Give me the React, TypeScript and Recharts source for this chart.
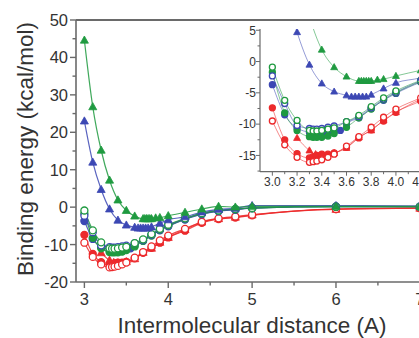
import React from 'react';
import { LineChart, Line, XAxis, YAxis, ReferenceLine, Label } from 'recharts';

// distances (A) shared by the circle series
const circleX = [3.0, 3.1, 3.2, 3.3, 3.33, 3.36, 3.4, 3.45, 3.5, 3.55, 3.6, 3.7, 3.8, 3.9, 4.0, 4.2, 4.4, 4.6, 4.8, 5.0, 6.0, 7.0];
const greenOpen = [-0.9, -6.2, -9.4, -11.0, -11.1, -11.1, -11.0, -10.8, -10.6, null, -9.6, -8.6, -7.2, -5.8, -4.7, -3.0, -1.6, -0.9, -0.5, -0.2, 0.1, 0.1];
const blueOpen = [-2.3, -6.7, -10.2, -10.7, -10.8, -10.8, -10.7, -10.5, -10.3, null, -9.6, -8.8, -7.4, -6.0, -4.9, -3.1, -1.7, -1.0, -0.6, -0.2, 0.2, 0.2];
const greenFilled = [-1.7, -8.2, -11.0, -12.0, -12.1, -12.1, -12.1, -11.9, -11.5, null, -10.5, -9.0, -7.6, -6.1, -5.0, -3.2, -1.8, -1.0, -0.6, -0.3, 0.1, 0.1];
const blueFilled = [-3.7, -8.5, -10.6, -11.3, -11.4, -11.5, -11.5, -11.4, -11.2, -11.0, -9.9, -9.0, -7.5, -6.2, -5.1, -3.3, -1.9, -1.1, -0.7, -0.3, 0.1, 0.1];
const redFilled = [-7.4, -12.5, -14.7, -15.4, -15.2, -15.0, -14.8, -14.8, -14.6, null, -13.7, -12.2, -10.9, -9.5, -8.1, -6.3, -4.2, -3.2, -2.8, -2.2, -0.5, -0.2];
const redOpen = [-9.5, -13.3, -15.3, -16.1, -16.0, -15.9, -15.7, -15.3, -14.8, null, -13.5, -12.0, -10.5, -8.9, -7.6, -5.8, -3.9, -3.0, -2.5, -2.0, -0.5, -0.3];

// triangle series
const redTriX = [3.2, 3.3, 3.35, 3.4, 3.5, 3.6, 3.7, 3.8, 3.9, 4.0, 4.2, 4.4, 4.6, 4.8, 5.0, 6.0, 7.0];
const redTri = [-12.2, -14.2, -14.8, -14.9, -14.6, -13.8, -12.1, -11.0, -9.4, -8.1, -6.0, -4.0, -3.1, -2.7, -2.1, -0.6, -0.3];
const greenTriX = [3.0, 3.1, 3.2, 3.3, 3.4, 3.5, 3.6, 3.7, 3.72, 3.74, 3.76, 3.78, 3.8, 3.85, 3.9, 4.0, 4.2, 4.4, 4.6, 4.8, 5.0, 6.0, 7.0];
const greenTri = [44.6, 26.8, 15.2, 7.2, 1.9, -0.9, -2.4, -3.1, -3.1, -3.1, -3.1, -3.1, -3.1, -2.9, -2.8, -2.3, -1.4, -0.5, 0.2, 0.0, 0.2, 0.2, 0.2];
const blueTriX = [3.0, 3.1, 3.2, 3.3, 3.4, 3.5, 3.6, 3.64, 3.67, 3.7, 3.73, 3.76, 3.8, 3.9, 4.0, 4.2, 4.4, 4.6, 4.8, 5.0, 6.0, 7.0];
const blueTri = [23.0, 12.0, 4.7, -0.5, -3.5, -4.8, -5.4, -5.6, -5.6, -5.6, -5.6, -5.6, -5.3, -4.3, -3.4, -2.6, -1.3, -0.6, -0.3, 0.4, 0.4, 0.3];

// axis ticks
const mainXTicks = [3, 3.5, 4, 4.5, 5, 5.5, 6, 6.5, 7];
const mainYTicks = [-20, -15, -10, -5, 0, 5, 10, 15, 20, 25, 30, 35, 40, 45, 50];
const insetXTicks = [3.0, 3.1, 3.2, 3.3, 3.4, 3.5, 3.6, 3.7, 3.8, 3.9, 4.0, 4.1, 4.2];
const insetYTicks = [-17.5, -15, -12.5, -10, -7.5, -5, -2.5, 0, 2.5, 5];

const GREEN = '#1f9a40';
const BLUE = '#3c48b4';
const RED = '#ec2a2c';
const AXIS = '#6a6a6a';
const TEXT = '#333';
const FONT = "Arial, 'Liberation Sans', sans-serif";

const toPts = (xs: number[], ys: (number | null)[]) => xs.map((x, i) => ({ x, y: ys[i] }));

const series = [
  { name: 'redFilled', data: toPts(circleX, redFilled), color: RED, shape: 'circle', filled: true },
  { name: 'redTri', data: toPts(redTriX, redTri), color: RED, shape: 'tri', filled: true },
  { name: 'redOpen', data: toPts(circleX, redOpen), color: RED, shape: 'circle', filled: false },
  { name: 'blueFilled', data: toPts(circleX, blueFilled), color: BLUE, shape: 'circle', filled: true },
  { name: 'greenFilled', data: toPts(circleX, greenFilled), color: GREEN, shape: 'circle', filled: true },
  { name: 'blueOpen', data: toPts(circleX, blueOpen), color: BLUE, shape: 'circle', filled: false },
  { name: 'greenOpen', data: toPts(circleX, greenOpen), color: GREEN, shape: 'circle', filled: false },
  { name: 'blueTri', data: toPts(blueTriX, blueTri), color: BLUE, shape: 'tri', filled: true },
  { name: 'greenTri', data: toPts(greenTriX, greenTri), color: GREEN, shape: 'tri', filled: true },
];

const makeDot = (shape: string, color: string, filled: boolean, size: number) => (props: any) => {
  const { cx, cy, key } = props;
  if (cx == null || cy == null) return <g key={key} />;
  if (shape === 'tri') {
    const w = size * 1.15;
    const pts = `${cx},${cy - size * 0.6} ${cx - w / 2},${cy + size * 0.42} ${cx + w / 2},${cy + size * 0.42}`;
    return <polygon key={key} points={pts} fill={color} stroke={color} strokeWidth={0.8} />;
  }
  return <circle key={key} cx={cx} cy={cy} r={size / 2} fill={filled ? color : '#fff'} stroke={color} strokeWidth={1.3} />;
};

// main plot geometry (svg coords)
const M_LEFT = 76;
const M_BOTTOM = 282;
// inset geometry (inset svg coords)
const I_LEFT = 40;
const I_BOTTOM = 171.7;

const MainXTick = ({ x, payload }: any) => {
  const major = Number.isInteger(payload.value);
  return (
    <g>
      <line x1={x} x2={x} y1={M_BOTTOM} y2={M_BOTTOM + (major ? 6 : 3.5)} stroke={AXIS} strokeWidth={1.4} />
      {major && (
        <text x={x} y={M_BOTTOM + 23} textAnchor="middle" fontSize={16.5} fontFamily={FONT} fill={TEXT}>
          {payload.value}
        </text>
      )}
    </g>
  );
};

const MainYTick = ({ y, payload }: any) => {
  const major = payload.value % 10 === 0;
  return (
    <g>
      <line x1={M_LEFT} x2={M_LEFT - (major ? 6 : 3.5)} y1={y} y2={y} stroke={AXIS} strokeWidth={1.4} />
      {major && (
        <text x={M_LEFT - 8} y={y} dy="0.36em" textAnchor="end" fontSize={16.5} fontFamily={FONT} fill={TEXT}>
          {payload.value}
        </text>
      )}
    </g>
  );
};

const InsetXTick = ({ x, payload }: any) => {
  const major = Math.round(payload.value * 10) % 2 === 0;
  return (
    <g>
      <line x1={x} x2={x} y1={I_BOTTOM} y2={I_BOTTOM + (major ? 4 : 2.5)} stroke={AXIS} strokeWidth={1} />
      {major && (
        <text x={x} y={I_BOTTOM + 14.5} textAnchor="middle" fontSize={12} fontFamily={FONT} fill={TEXT}>
          {payload.value.toFixed(1)}
        </text>
      )}
    </g>
  );
};

const InsetYTick = ({ y, payload }: any) => {
  const major = payload.value % 5 === 0;
  return (
    <g>
      <line x1={I_LEFT} x2={I_LEFT - (major ? 4 : 2.5)} y1={y} y2={y} stroke={AXIS} strokeWidth={1} />
      {major && (
        <text x={I_LEFT - 4} y={y} dy="0.36em" textAnchor="end" fontSize={12} fontFamily={FONT} fill={TEXT}>
          {payload.value}
        </text>
      )}
    </g>
  );
};

const App: React.FC = () => {
  return (
    <div style={{ position: 'fixed', left: 0, top: 0, width: 419, height: 338, overflow: 'hidden', background: '#fff', fontFamily: FONT }}>
      <div style={{ position: 'absolute', left: 0, top: 0 }}>
        <LineChart width={445} height={338} margin={{ top: 20, right: 0, bottom: 0, left: 0 }}>
          <XAxis
            dataKey="x"
            type="number"
            domain={[2.9, 7.3]}
            ticks={mainXTicks}
            interval={0}
            allowDataOverflow
            height={56}
            tickLine={false}
            tick={<MainXTick />}
            axisLine={{ stroke: AXIS, strokeWidth: 1.6 }}
          >
            <Label
              content={() => (
                <text x={252} y={333} textAnchor="middle" fontSize={22.5} fontFamily={FONT} fill={TEXT}>
                  Intermolecular distance (A)
                </text>
              )}
            />
          </XAxis>
          <YAxis
            dataKey="y"
            type="number"
            domain={[-20, 50]}
            ticks={mainYTicks}
            interval={0}
            allowDataOverflow
            width={76}
            tickLine={false}
            tick={<MainYTick />}
            axisLine={{ stroke: AXIS, strokeWidth: 1.6 }}
          >
            <Label
              content={() => (
                <text x={25} y={149} transform="rotate(-90 25 149)" dy="0.35em" textAnchor="middle" fontSize={22.5} fontFamily={FONT} fill={TEXT}>
                  Binding energy (kcal/mol)
                </text>
              )}
            />
          </YAxis>
          <ReferenceLine y={50} stroke={AXIS} strokeWidth={2} />
          {series.map((s) => (
            <Line
              key={s.name}
              data={s.data}
              dataKey="y"
              type="monotone"
              stroke={s.color}
              strokeWidth={1.2}
              strokeOpacity={0.85}
              connectNulls
              dot={makeDot(s.shape, s.color, s.filled, 7)}
              activeDot={false}
              isAnimationActive={false}
            />
          ))}
        </LineChart>
      </div>
      <div style={{ position: 'absolute', left: 220, top: 0 }}>
        <LineChart width={213} height={200} margin={{ top: 29, right: 0, bottom: 0, left: 0 }}>
          <XAxis
            dataKey="x"
            type="number"
            domain={[2.9, 4.3]}
            ticks={insetXTicks}
            interval={0}
            allowDataOverflow
            height={28.3}
            tickLine={false}
            tick={<InsetXTick />}
            axisLine={{ stroke: AXIS, strokeWidth: 1.2 }}
          />
          <YAxis
            dataKey="y"
            type="number"
            domain={[-17.6, 5.2]}
            ticks={insetYTicks}
            interval={0}
            allowDataOverflow
            width={40}
            tickLine={false}
            tick={<InsetYTick />}
            axisLine={{ stroke: AXIS, strokeWidth: 1.2 }}
          />
          {series.map((s) => (
            <Line
              key={s.name}
              data={s.data}
              dataKey="y"
              type="monotone"
              stroke={s.color}
              strokeWidth={1}
              strokeOpacity={0.55}
              connectNulls
              dot={makeDot(s.shape, s.color, s.filled, 6)}
              activeDot={false}
              isAnimationActive={false}
            />
          ))}
        </LineChart>
      </div>
    </div>
  );
};

export default App;
